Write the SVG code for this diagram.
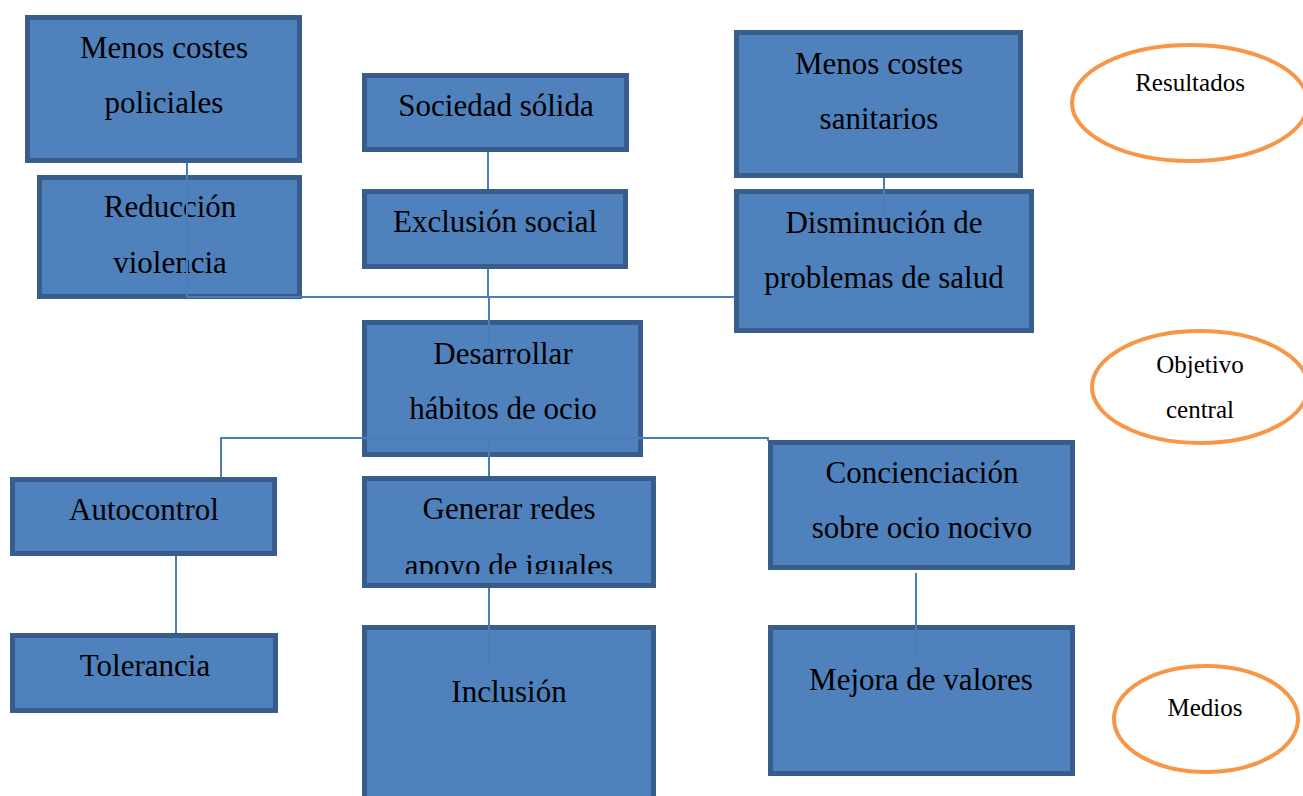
<svg xmlns="http://www.w3.org/2000/svg" width="1303" height="796" viewBox="0 0 1303 796">
<style>
.box{fill:#4F81BD;stroke:#385D8A;stroke-width:5}
.t{font-family:"Liberation Serif","Times New Roman",serif;font-size:31px;fill:#000;text-anchor:middle}
.s{font-family:"Liberation Serif","Times New Roman",serif;font-size:25px;fill:#000;text-anchor:middle}
.ov{fill:#fff;stroke:#F79646;stroke-width:4}
.ln{fill:none;stroke:#4A7EBB;stroke-width:2}
</style>
<defs>
<clipPath id="clip9"><rect x="362" y="476" width="300" height="98"/></clipPath>
</defs>
<rect width="1303" height="796" fill="#fff"/>
<g id="n1"><rect class="box" x="27.5" y="17.5" width="272" height="143"/><text class="t" x="164" y="58">Menos costes</text><text class="t" x="164" y="113">policiales</text></g>
<g id="n2"><rect class="box" x="39.5" y="177.5" width="260" height="119"/><text class="t" x="170" y="217">Reducción</text><text class="t" x="170" y="273">violencia</text></g>
<g id="n3"><rect class="box" x="364.5" y="75.5" width="262" height="74"/><text class="t" x="496" y="116">Sociedad sólida</text></g>
<g id="n4"><rect class="box" x="364.5" y="191.5" width="261" height="75"/><text class="t" x="495" y="232">Exclusión social</text></g>
<g id="n5"><rect class="box" x="736.5" y="32.5" width="284" height="143"/><text class="t" x="879" y="74">Menos costes</text><text class="t" x="879" y="129">sanitarios</text></g>
<g id="n6"><rect class="box" x="736.5" y="191.5" width="295" height="139"/><text class="t" x="884" y="233">Disminución de</text><text class="t" x="884" y="288">problemas de salud</text></g>
<g id="n7"><rect class="box" x="364.5" y="322.5" width="276" height="132"/><text class="t" x="503" y="364">Desarrollar</text><text class="t" x="503" y="419">hábitos de ocio</text></g>
<g id="n8"><rect class="box" x="12.5" y="479.5" width="262" height="74"/><text class="t" x="144" y="520">Autocontrol</text></g>
<g id="n9"><rect class="box" x="364.5" y="478.5" width="289" height="107"/><text class="t" x="509" y="519">Generar redes</text><text class="t" x="509" y="576" clip-path="url(#clip9)">apoyo de iguales</text></g>
<g id="n10"><rect class="box" x="770.5" y="442.5" width="302" height="125"/><text class="t" x="922" y="483">Concienciación</text><text class="t" x="922" y="538">sobre ocio nocivo</text></g>
<g id="n11"><rect class="box" x="12.5" y="635.5" width="263" height="75"/><text class="t" x="145" y="676">Tolerancia</text></g>
<g id="n12"><rect class="box" x="364.5" y="627.5" width="289" height="180"/><text class="t" x="509" y="702">Inclusión</text></g>
<g id="n13"><rect class="box" x="770.5" y="627.5" width="302" height="146"/><text class="t" x="921" y="690">Mejora de valores</text></g>
<g id="l1"><ellipse class="ov" cx="1190" cy="103" rx="118" ry="58"/><text class="s" x="1190" y="91">Resultados</text></g>
<g id="l2"><ellipse class="ov" cx="1200" cy="387" rx="108" ry="56"/><text class="s" x="1200" y="373">Objetivo</text><text class="s" x="1200" y="418">central</text></g>
<g id="l3"><ellipse class="ov" cx="1206" cy="719" rx="92" ry="53"/><text class="s" x="1205" y="716">Medios</text></g>
<g id="connectors">
<path class="ln" d="M187 163 V297 H735"/>
<path class="ln" d="M488 152 V189"/>
<path class="ln" d="M488 269 V297"/>
<path class="ln" d="M489 297 V345"/>
<path class="ln" d="M884 178 V215"/>
<path class="ln" d="M221 477 V438 H768 V441"/>
<path class="ln" d="M489 440 V476"/>
<path class="ln" d="M176 556 V633"/>
<path class="ln" d="M489 588 V668"/>
<path class="ln" d="M916 573 V660"/>
</g>
</svg>
